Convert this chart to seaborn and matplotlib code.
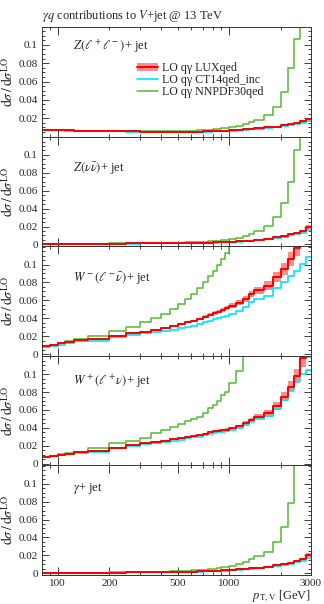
import numpy as np
import matplotlib
matplotlib.use("Agg")
import matplotlib.pyplot as plt
import seaborn as sns
from matplotlib.ticker import FixedLocator, MultipleLocator, NullFormatter
from matplotlib.lines import Line2D
from matplotlib.patches import Patch

# pT,V bin edges [GeV]
pt_edges = [80, 90, 100, 110, 125, 150, 200, 250, 300, 350, 400, 450, 500,
            550, 600, 650, 700, 750, 800, 850, 900, 950, 1000, 1100, 1200,
            1300, 1400, 1600, 1800, 2000, 2200, 2400, 2600, 2800, 3000]

# Z(ll) + jet
zll_lux = [0.0072, 0.0071, 0.0069, 0.0067, 0.0065, 0.0062, 0.0058, 0.0056, 0.0055, 0.0054, 0.0053, 0.0053,
           0.0053, 0.0053, 0.0054, 0.0055, 0.0056, 0.0057, 0.0058, 0.0060, 0.0062, 0.0064, 0.0068, 0.0073,
           0.0078, 0.0084, 0.0090, 0.0100, 0.0110, 0.0122, 0.0135, 0.0148, 0.0165, 0.0190]
zll_ct14 = [0.0071, 0.0070, 0.0068, 0.0066, 0.0064, 0.0061, 0.0057, 0.0055, 0.0054, 0.0053, 0.0052, 0.0052,
            0.0052, 0.0052, 0.0053, 0.0053, 0.0054, 0.0055, 0.0056, 0.0058, 0.0059, 0.0061, 0.0065, 0.0069,
            0.0074, 0.0079, 0.0085, 0.0094, 0.0103, 0.0114, 0.0125, 0.0137, 0.0150, 0.0168]
zll_nnpdf = [0.0072, 0.0071, 0.0069, 0.0067, 0.0065, 0.0062, 0.0058, 0.0057, 0.0056, 0.0056, 0.0057, 0.0058,
             0.0060, 0.0062, 0.0065, 0.0068, 0.0072, 0.0076, 0.0080, 0.0085, 0.0090, 0.0095, 0.0100, 0.0115,
             0.0135, 0.0155, 0.0181, 0.0237, 0.0318, 0.0487, 0.0753, 0.1066, 0.16, 0.24]

# Z(nu nu) + jet
znn_lux = [0.0010, 0.0010, 0.0010, 0.0010, 0.0010, 0.0010, 0.0010, 0.0011, 0.0012, 0.0013, 0.0014, 0.0015,
           0.0016, 0.0017, 0.0018, 0.0019, 0.0020, 0.0021, 0.0022, 0.0023, 0.0025, 0.0027, 0.0029, 0.0033,
           0.0037, 0.0042, 0.0050, 0.0064, 0.0080, 0.0098, 0.0113, 0.0128, 0.0153, 0.0195]
znn_ct14 = [0.0009, 0.0009, 0.0009, 0.0009, 0.0009, 0.0009, 0.0009, 0.0010, 0.0011, 0.0012, 0.0013, 0.0014,
            0.0015, 0.0016, 0.0017, 0.0018, 0.0019, 0.0020, 0.0021, 0.0022, 0.0023, 0.0025, 0.0027, 0.0030,
            0.0034, 0.0038, 0.0045, 0.0057, 0.0071, 0.0087, 0.0100, 0.0113, 0.0132, 0.0160]
znn_nnpdf = [0.0010, 0.0010, 0.0010, 0.0010, 0.0010, 0.0010, 0.0011, 0.0012, 0.0013, 0.0014, 0.0016, 0.0018,
             0.0020, 0.0022, 0.0024, 0.0027, 0.0030, 0.0033, 0.0036, 0.0040, 0.0044, 0.0048, 0.0055, 0.0072,
             0.0090, 0.0116, 0.0153, 0.0210, 0.0310, 0.0466, 0.0700, 0.1050, 0.16, 0.24]

# W-(l- nu) + jet
wm_lux = [0.0093, 0.0104, 0.0118, 0.0137, 0.0156, 0.0167, 0.0204, 0.0230, 0.0248, 0.0270, 0.0290, 0.0317,
          0.0331, 0.0355, 0.0373, 0.0392, 0.0418, 0.0440, 0.0460, 0.0475, 0.0490, 0.0515, 0.0541, 0.0571,
          0.0616, 0.0672, 0.0710, 0.0765, 0.0858, 0.0952, 0.1064, 0.1190, 0.135, 0.150]
wm_ct14 = [0.0082, 0.0093, 0.0104, 0.0123, 0.0142, 0.0149, 0.0186, 0.0212, 0.0231, 0.0248, 0.0262, 0.0272,
           0.0287, 0.0302, 0.0317, 0.0331, 0.0355, 0.0373, 0.0390, 0.0405, 0.0415, 0.0430, 0.0448, 0.0485,
           0.0522, 0.0579, 0.0616, 0.0653, 0.0735, 0.0802, 0.0877, 0.0933, 0.1008, 0.1080]
wm_nnpdf = [0.0093, 0.0106, 0.0127, 0.0149, 0.0167, 0.0197, 0.0260, 0.0305, 0.0354, 0.0400, 0.0448, 0.0504,
            0.0560, 0.0616, 0.0670, 0.0735, 0.0800, 0.0870, 0.0930, 0.0990, 0.1060, 0.1130, 0.13, 0.15,
            0.17, 0.20, 0.25, 0.30, 0.35, 0.40, 0.45, 0.50, 0.55, 0.60]

# W+(l+ nu) + jet
wp_lux = [0.0074, 0.0086, 0.0101, 0.0112, 0.0127, 0.0142, 0.0180, 0.0206, 0.0225, 0.0243, 0.0258, 0.0270,
          0.0281, 0.0296, 0.0307, 0.0318, 0.0333, 0.0348, 0.0360, 0.0366, 0.0374, 0.0380, 0.0393, 0.0416,
          0.0450, 0.0487, 0.0525, 0.0562, 0.0648, 0.0749, 0.0861, 0.0974, 0.1180, 0.130]
wp_ct14 = [0.0070, 0.0082, 0.0096, 0.0107, 0.0121, 0.0135, 0.0171, 0.0196, 0.0214, 0.0231, 0.0245, 0.0256,
           0.0267, 0.0281, 0.0292, 0.0302, 0.0316, 0.0330, 0.0340, 0.0349, 0.0358, 0.0365, 0.0372, 0.0395,
           0.0427, 0.0462, 0.0498, 0.0533, 0.0615, 0.0711, 0.0818, 0.0925, 0.1000, 0.1050]
wp_nnpdf = [0.0076, 0.0088, 0.0105, 0.0118, 0.0135, 0.0169, 0.0225, 0.0250, 0.0287, 0.0340, 0.0380, 0.0410,
            0.0447, 0.0476, 0.0500, 0.0525, 0.0570, 0.0618, 0.0660, 0.0700, 0.0770, 0.0800, 0.0900, 0.1040,
            0.13, 0.16, 0.20, 0.25, 0.30, 0.35, 0.40, 0.45, 0.50, 0.55]

# gamma + jet
ga_lux = [0.0005, 0.0005, 0.0005, 0.0005, 0.0005, 0.0006, 0.0007, 0.0008, 0.0009, 0.0010, 0.0012, 0.0013,
          0.0015, 0.0016, 0.0018, 0.0020, 0.0022, 0.0024, 0.0026, 0.0028, 0.0031, 0.0034, 0.0040, 0.0045,
          0.0050, 0.0056, 0.0063, 0.0075, 0.0088, 0.0102, 0.0118, 0.0138, 0.0160, 0.0205]
ga_ct14 = [0.0005, 0.0005, 0.0005, 0.0005, 0.0005, 0.0006, 0.0007, 0.0008, 0.0009, 0.0010, 0.0011, 0.0012,
           0.0013, 0.0014, 0.0016, 0.0018, 0.0020, 0.0022, 0.0023, 0.0025, 0.0028, 0.0030, 0.0035, 0.0040,
           0.0044, 0.0049, 0.0055, 0.0066, 0.0077, 0.0090, 0.0104, 0.0121, 0.0140, 0.0175]
ga_nnpdf = [0.0005, 0.0005, 0.0005, 0.0005, 0.0005, 0.0006, 0.0008, 0.0010, 0.0012, 0.0014, 0.0017, 0.0020,
            0.0024, 0.0028, 0.0032, 0.0036, 0.0041, 0.0046, 0.0052, 0.0058, 0.0065, 0.0072, 0.0082, 0.0104,
            0.0130, 0.0157, 0.0190, 0.0240, 0.0354, 0.0515, 0.0780, 0.16, 0.24, 0.30]

# relative scale band of the LUXqed prediction
lux_unc = [0.02, 0.02, 0.02, 0.02, 0.02, 0.02, 0.02, 0.02, 0.02, 0.022, 0.024, 0.026,
           0.028, 0.03, 0.032, 0.034, 0.036, 0.038, 0.04, 0.042, 0.044, 0.046, 0.048, 0.05,
           0.053, 0.056, 0.06, 0.064, 0.068, 0.072, 0.076, 0.08, 0.085, 0.09]

panels = [
    (r"$Z(\ell^+\ell^-)$+ jet", zll_lux, zll_ct14, zll_nnpdf, 0.82),
    (r"$Z(\nu\bar{\nu})$+ jet", znn_lux, znn_ct14, znn_nnpdf, 0.71),
    (r"$W^-(\ell^-\bar{\nu})$+ jet", wm_lux, wm_ct14, wm_nnpdf, 0.70),
    (r"$W^+(\ell^+\nu)$+ jet", wp_lux, wp_ct14, wp_nnpdf, 0.77),
    (r"$\gamma$+ jet", ga_lux, ga_ct14, ga_nnpdf, 0.79),
]

c_lux = "#ff0000"
c_band = "#ff8c8c"
c_ct14 = "#00e8ff"
c_nnpdf = "#58bd3a"

sns.set_style("ticks")
plt.rcParams["font.family"] = ["Liberation Serif", "DejaVu Serif"]
plt.rcParams["mathtext.fontset"] = "stix"

W, H = 324, 604
fig = plt.figure(figsize=(W / 100, H / 100), dpi=100)
left, right, top, ph = 42, 311, 27, 109.6

edges = np.array(pt_edges, dtype=float)


def stepy(v):
    return np.append(v, v[-1])


for i, (label, lux, ct14, nnpdf, ty) in enumerate(panels):
    y0 = top + (i + 1) * ph
    ax = fig.add_axes([left / W, 1 - y0 / H, (right - left) / W, ph / H])
    lux = np.array(lux)
    unc = np.array(lux_unc)
    ax.fill_between(edges, stepy(lux * (1 - unc)), stepy(lux * (1 + unc)),
                    step="post", color=c_band, lw=0)
    sns.lineplot(x=edges, y=stepy(np.array(nnpdf)), drawstyle="steps-post",
                 color=c_nnpdf, lw=1.15, ax=ax, legend=False)
    sns.lineplot(x=edges, y=stepy(np.array(ct14)), drawstyle="steps-post",
                 color=c_ct14, lw=1.25, ax=ax, legend=False)
    sns.lineplot(x=edges, y=stepy(lux), drawstyle="steps-post",
                 color=c_lux, lw=1.45, ax=ax, legend=False)

    ax.set_xscale("log")
    ax.set_xlim(81, 3000)
    if i == 0:
        ax.set_ylim(0, 0.1195)
        ax.yaxis.set_major_locator(FixedLocator([0.02, 0.04, 0.06, 0.08, 0.1]))
    else:
        ax.set_ylim(-0.002, 0.1205)
        ax.yaxis.set_major_locator(FixedLocator([0, 0.02, 0.04, 0.06, 0.08, 0.1]))
    ax.yaxis.set_minor_locator(MultipleLocator(0.005))
    ax.yaxis.set_major_formatter(plt.FuncFormatter(lambda v, p: "%g" % round(v, 3)))

    ax.xaxis.set_major_locator(FixedLocator([100, 1000]))
    ax.xaxis.set_minor_locator(FixedLocator([90, 200, 300, 400, 500, 600, 700, 800, 900, 2000, 3000]))
    ax.xaxis.set_minor_formatter(NullFormatter())
    ax.xaxis.set_major_formatter(NullFormatter())
    if i == 4:
        ax.set_xticks([100, 200, 500, 1000, 3000])
        ax.set_xticklabels(["100", "200", "500", "1000", "3000"])
        ax.xaxis.set_minor_locator(FixedLocator([90, 300, 400, 600, 700, 800, 900, 2000]))
        ax.set_xlabel(r"$p_{\mathrm{T,V}}$ [GeV]", fontsize=9, loc="right", labelpad=0)

    ax.tick_params(which="both", direction="in", top=True, right=True, labelsize=8,
                   color="#222222", width=0.6, pad=3)
    ax.tick_params(which="major", length=5)
    ax.tick_params(which="minor", length=2.5)
    ax.tick_params(axis="x", which="major", length=6)
    for s in ax.spines.values():
        s.set_linewidth(0.7)
        s.set_color("#333333")

    ax.set_ylabel(r"$\mathrm{d}\sigma\,/\,\mathrm{d}\sigma^{\mathrm{LO}}$", fontsize=10)
    ax.yaxis.set_label_coords(-0.095, 0.5)
    ax.text(0.115, ty, label, transform=ax.transAxes, fontsize=9, va="center",
            color="#222222")

    if i == 0:
        ax.set_title(r"$\gamma q$ contributions to $V$+jet @ 13 TeV", fontsize=9,
                     loc="left", pad=6)
        handles = [(Patch(facecolor=c_band, lw=0), Line2D([], [], color=c_lux, lw=1.45)),
                   Line2D([], [], color=c_ct14, lw=1.25),
                   Line2D([], [], color=c_nnpdf, lw=1.15)]
        labels = ["LO qγ LUXqed", "LO qγ CT14qed_inc", "LO qγ NNPDF30qed"]
        ax.legend(handles, labels, loc="upper left", bbox_to_anchor=(0.352, 0.68),
                  frameon=False, fontsize=8.6, handlelength=1.8, handletextpad=0.35,
                  labelspacing=0.0, borderpad=0, borderaxespad=0)

fig.savefig("out.png", dpi=100)
